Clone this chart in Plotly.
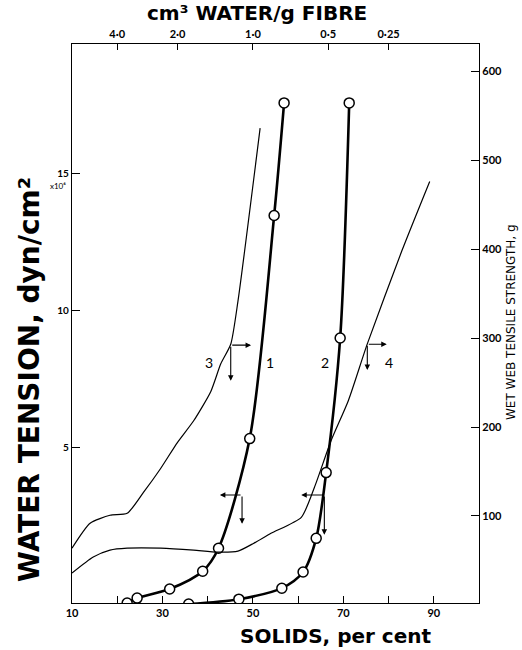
import plotly.graph_objects as go

# ---- data ----
# curve 1 & 2: water tension (x10^6 dyn/cm2) vs solids (%) -- left axis
c1_solids = [22.2, 24.4, 31.6, 38.9, 42.4, 49.3, 54.7, 56.9]
c1_tension = [-0.69, -0.51, -0.18, 0.47, 1.31, 5.31, 13.45, 17.56]
c2_solids = [35.8, 46.9, 56.4, 61.1, 64.0, 66.2, 69.3, 71.3]
c2_tension = [-0.73, -0.55, -0.15, 0.44, 1.67, 4.07, 8.98, 17.56]
# curve 3 & 4: wet web tensile strength (g) vs solids (%) -- right axis
c3_solids = [10, 14, 18.4, 22.2, 25.8, 29.6, 33.3, 36.9, 40.7, 42.9, 45.1, 46.7, 51.6]
c3_strength = [63.8, 91.8, 100.8, 103, 126.5, 153.4, 182.5, 207, 240, 271, 293, 341.5, 536]
c4_solids = [10, 14.7, 18.4, 22.2, 29.6, 36.9, 42.2, 46.7, 50.2, 54.0, 60.7, 63.6, 67.3, 71.1, 75.3, 82.9, 89.1]
c4_strength = [35.8, 53.8, 61.6, 63.8, 63.8, 61.6, 59.4, 60.5, 69.4, 80.6, 98.5, 132, 184.8, 229.6, 293.4, 397.5, 476]

bottom_ticks = [10, 20, 30, 40, 50, 60, 70, 80, 90]
bottom_labels = ["10", "", "30", "", "50", "", "70", "", "90"]
top_labels = ["4·0", "2·0", "1·0", "0·5", "0·25"]
top_water = [4.0, 2.0, 1.0, 0.5, 0.25]
left_ticks = [5, 10, 15]
right_ticks = [100, 200, 300, 400, 500, 600]

FONT = "Lato"
TFONT = "DejaVu Sans"
W, H = 522, 650
ML, MR, MT, MB = 72, 43, 44, 47
PW, PH = W - ML - MR, H - MT - MB


def px(xp):
    return (xp - ML) / PW


def py(yp):
    return (H - MB - yp) / PH


fig = go.Figure()

thick = dict(color="black", width=2.6)
thin = dict(color="black", width=1.2)
mk = dict(symbol="circle", size=10, color="white", line=dict(color="black", width=1.5))

fig.add_trace(go.Scatter(x=c3_solids, y=c3_strength, mode="lines", line=dict(shape="spline", smoothing=0.6, **thin), yaxis="y2", showlegend=False))
fig.add_trace(go.Scatter(x=c4_solids, y=c4_strength, mode="lines", line=dict(shape="spline", smoothing=0.6, **thin), yaxis="y2", showlegend=False))
fig.add_trace(go.Scatter(x=c1_solids, y=c1_tension, mode="lines+markers", line=dict(shape="spline", smoothing=0.8, **thick), marker=mk, showlegend=False))
fig.add_trace(go.Scatter(x=c2_solids, y=c2_tension, mode="lines+markers", line=dict(shape="spline", smoothing=0.8, **thick), marker=mk, showlegend=False))
# dummy trace to activate top axis
fig.add_trace(go.Scatter(x=[None], y=[None], xaxis="x2", showlegend=False))

top_vals = [100.0 / (1.0 + w) for w in top_water]

tickfont = dict(family=FONT, size=11, color="black", weight="bold")
fig.update_layout(
    width=W, height=H,
    margin=dict(l=ML, r=MR, t=MT, b=MB),
    paper_bgcolor="white", plot_bgcolor="white",
    xaxis=dict(range=[10, 100], tickvals=bottom_ticks, ticktext=bottom_labels, ticks="inside", ticklen=7,
               tickwidth=1, tickcolor="black", showline=True, linecolor="black", linewidth=1.3,
               showgrid=False, zeroline=False, tickfont=tickfont),
    xaxis2=dict(range=[10, 100], overlaying="x", side="top", tickvals=top_vals, ticktext=top_labels,
                ticks="inside", ticklen=6, tickwidth=1, tickcolor="black", showline=True, linecolor="black",
                linewidth=1.3, showgrid=False, zeroline=False, tickfont=tickfont),
    yaxis=dict(range=[-0.69, 19.71], tickvals=left_ticks, ticks="inside", ticklen=8, tickwidth=1,
               tickcolor="black", showline=True, linecolor="black",
               linewidth=1.3, showgrid=False, zeroline=False,
               tickfont=dict(family=FONT, size=10, color="black", weight="bold")),
    yaxis2=dict(range=[2.2, 630.5], overlaying="y", side="right", tickvals=right_ticks, ticks="inside",
                ticklen=8, tickwidth=1, tickcolor="black", showline=True, linecolor="black", linewidth=1.3,
                showgrid=False, zeroline=False, tickfont=tickfont),
)

ann = []
# titles
ann.append(dict(text="<b>cm³ WATER/g FIBRE</b>", xref="paper", yref="paper", x=px(257), y=py(13),
                xanchor="center", yanchor="middle",
                showarrow=False, font=dict(family=TFONT, size=20, color="black")))
ann.append(dict(text="<b>SOLIDS, per cent</b>", xref="paper", yref="paper", x=px(336), y=py(636),
                xanchor="center", yanchor="middle",
                showarrow=False, font=dict(family=TFONT, size=20, color="black")))
ann.append(dict(text="<b>WATER TENSION, dyn/cm²</b>", xref="paper", yref="paper", x=px(30), y=py(380),
                xanchor="center", yanchor="middle",
                textangle=-90, showarrow=False, font=dict(family=TFONT, size=28, color="black")))
ann.append(dict(text="WET WEB TENSILE STRENGTH, g", xref="paper", yref="paper", x=px(511), y=py(322),
                xanchor="center", yanchor="middle",
                textangle=-90, showarrow=False, font=dict(family=TFONT, size=12, color="black")))
ann.append(dict(text="x10⁶", xref="paper", yref="y", x=0, y=15, xanchor="right", yanchor="middle",
                yshift=-13, xshift=-4, showarrow=False, font=dict(family=FONT, size=8, color="black")))
# curve labels
for lab, xv in [("3", 40.2), ("1", 53.8), ("2", 66.0), ("4", 80.0)]:
    ann.append(dict(text=lab, x=xv, y=8.07, xref="x", yref="y", showarrow=False,
                    xanchor="center", yanchor="middle",
                    font=dict(family=FONT, size=14, color="black")))


def arrow(x0, y0, x1, y1, yref):
    return dict(x=x1, y=y1, ax=x0, ay=y0, xref="x", yref=yref, axref="x", ayref=yref, text="",
                showarrow=True, arrowhead=2, arrowsize=1, arrowwidth=1.1, arrowcolor="black")


# curve 1 & 2 arrows (left axis)
ann.append(arrow(47.6, 3.25, 42.7, 3.25, "y"))
ann.append(arrow(47.6, 3.25, 47.6, 2.2, "y"))
ann.append(arrow(65.8, 3.25, 60.7, 3.25, "y"))
ann.append(arrow(65.8, 3.25, 65.8, 1.8, "y"))
# curve 3 & 4 arrows (right axis)
ann.append(arrow(45.1, 292, 49.6, 292, "y2"))
ann.append(arrow(45.1, 292, 45.1, 252, "y2"))
ann.append(arrow(75.3, 293, 79.6, 293, "y2"))
ann.append(arrow(75.3, 293, 75.3, 264, "y2"))

fig.update_layout(annotations=ann)
fig.write_html("out.html")
